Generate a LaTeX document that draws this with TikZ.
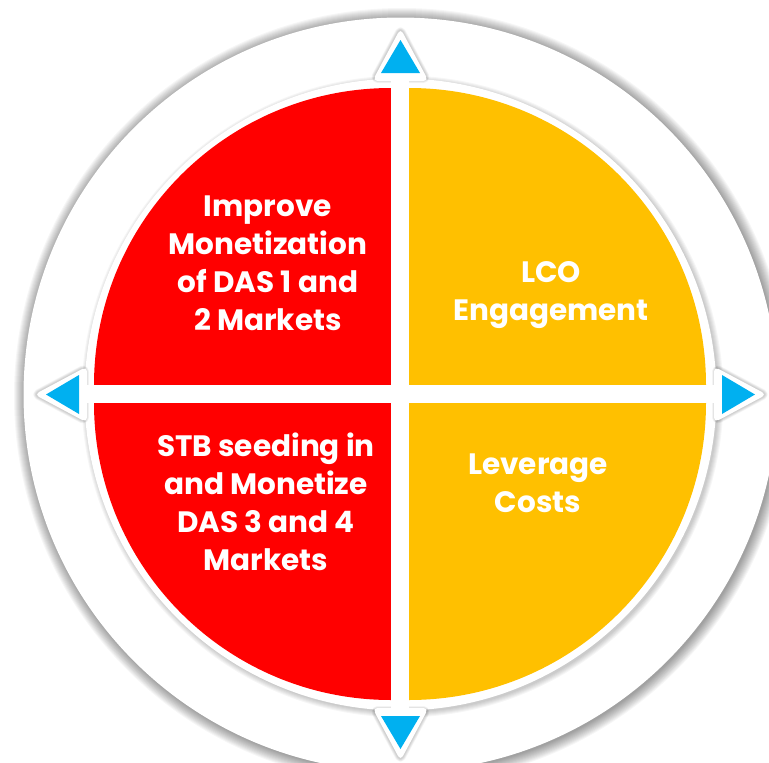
\documentclass[tikz,border=0pt]{standalone}
\usepackage{fontspec}
\setmainfont{Poppins}
\usetikzlibrary{calc}
\definecolor{quadred}{HTML}{FF0000}
\definecolor{quadgold}{HTML}{FFC000}
\definecolor{markblue}{HTML}{00B0F0}
\begin{document}
\begin{tikzpicture}[x=1pt,y=-1pt,
  lbl/.style={text=white, align=center, inner sep=0pt,
    font=\fontsize{29.5}{38}\selectfont\bfseries},
  pointer/.style={fill=markblue, draw=none},
  pointerbase/.style={fill=white, draw=none, rounded corners=5pt}]
\useasboundingbox (0,0) rectangle (769,763);
\fill[white] (0,0) rectangle (769,763);
\coordinate (C) at (400.5,394.5);

% soft shadow of the outer ring
\foreach \i in {1,...,12}
  \fill[black, opacity=0.035] ($(C)+(1.5,1.5)$) circle[radius=376pt+\i pt];
\fill[white] (C) circle[radius=377pt];

% soft shadow of the inner disc
\foreach \i in {1,...,6}
  \fill[black, opacity=0.035] ($(C)+(2,2)$) circle[radius=315pt+\i pt];
\fill[white] (C) circle[radius=316pt];

% four quadrants
\fill[quadred]  (391,385) -- ++(-297,0) arc[start angle=180,end angle=90,radius=297pt] -- cycle;
\fill[quadgold] (409,385) -- ++(0,-297) arc[start angle=90,end angle=0,radius=297pt] -- cycle;
\fill[quadred]  (391,403) -- ++(-297,0) arc[start angle=180,end angle=270,radius=297pt] -- cycle;
\fill[quadgold] (409,403) -- ++(297,0) arc[start angle=0,end angle=-90,radius=297pt] -- cycle;

% faint shadows of the pointer bases
\foreach \ang in {0,90,180,270}
  \foreach \w in {1,2,...,6}
    \draw[black, opacity=0.03, line width=\w pt, line join=round, rounded corners=5pt,
          shift={(C)}, rotate=\ang, xshift=1pt]
      (366,0) -- (313.5,28) -- (313.5,-28) -- cycle;

% white cross running out to the pointers
\fill[white] (391,78) rectangle (409,712);
\fill[white] (86,385) rectangle (716,403);

% pointer bases and blue pointers
\foreach \ang in {0,90,180,270} {
  \fill[pointerbase, shift={(C)}, rotate=\ang]
    (366,0) -- (313.5,28) -- (313.5,-28) -- cycle;
  \fill[pointer, shift={(C)}, rotate=\ang]
    (354.5,0) -- (321.5,19.5) -- (321.5,-19.5) -- cycle;
}

% labels
\node[lbl] (imp) at (268,266) {\strut Improve\\Monetization\\of DAS 1 and\\2 Markets\strut};
\node[lbl] (lco) at (551,294) {\strut LCO\\Engagement\strut};
\node[lbl] (stb) at (266,506) {\strut STB seeding in\\and Monetize\\DAS 3 and 4\\Markets\strut};
\node[lbl] (lev) at (538,486) {\strut Leverage\\Costs\strut};
\end{tikzpicture}
\end{document}
